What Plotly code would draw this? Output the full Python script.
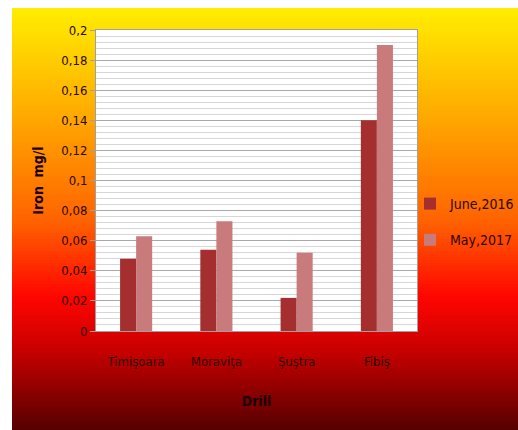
import plotly.graph_objects as go

categories = ["Timişoara", "Moraviţa", "Şuştra", "Fibiş"]
june_2016 = [0.048, 0.054, 0.022, 0.14]
may_2017 = [0.063, 0.073, 0.052, 0.19]
tick_vals = [0, 0.02, 0.04, 0.06, 0.08, 0.1, 0.12, 0.14, 0.16, 0.18, 0.2]
tick_text = ["0", "0,02", "0,04", "0,06", "0,08", "0,1", "0,12", "0,14", "0,16", "0,18", "0,2"]

W, H = 518, 430
L, R, T, B = 96, 417, 30, 331

FONT = "DejaVu Sans Condensed, Liberation Sans Narrow, sans-serif"
TXT = "#2b0800"

fig = go.Figure()
fig.add_trace(go.Bar(name="June,2016", x=categories, y=june_2016,
                     marker=dict(color="#a52f2f", line=dict(width=0)),
                     legendgroup="a"))
fig.add_trace(go.Bar(name="May,2017", x=categories, y=may_2017,
                     marker=dict(color="#c97a7a", line=dict(width=0)),
                     legendgroup="b"))

# background gradient (page pixel rows)
stops = [(8, (255, 238, 0)), (130, (255, 160, 0)), (220, (255, 100, 0)),
         (297, (255, 5, 0)), (350, (200, 0, 0)), (430, (85, 0, 0))]

def col(py):
    for (a, ca), (b, cb) in zip(stops[:-1], stops[1:]):
        if a <= py <= b:
            t = (py - a) / (b - a)
            c = [round(ca[i] + (cb[i] - ca[i]) * t) for i in range(3)]
            return "rgb(%d,%d,%d)" % tuple(c)
    return "rgb(%d,%d,%d)" % stops[-1][1]

def xp(px):
    return (px - L) / (R - L)

def yp(py):
    return (B - py) / (B - T)

shapes = []
step = 3
py = 8
while py < 430:
    shapes.append(dict(type="rect", xref="paper", yref="paper",
                       x0=xp(12), x1=xp(522), y0=yp(min(py + step + 0.5, 434)), y1=yp(py),
                       fillcolor=col(py + step / 2), line=dict(width=0), layer="below"))
    py += step
shapes.append(dict(type="rect", xref="paper", yref="paper", x0=0, x1=1, y0=0, y1=1,
                   fillcolor="white", line=dict(width=0), layer="below"))
fig.update_layout(shapes=shapes)

fig.update_layout(
    width=W, height=H,
    margin=dict(l=L, r=W - R, t=T, b=H - B, pad=0, autoexpand=False),
    paper_bgcolor="white",
    plot_bgcolor="rgba(0,0,0,0)",
    barmode="group", bargap=0.6, bargroupgap=0,
    font=dict(family=FONT, size=13, color=TXT),
    legend=dict(xref="container", yref="container", x=410 / W, y=1 - 222 / H,
                xanchor="left", yanchor="middle",
                bgcolor="rgba(0,0,0,0)", font=dict(size=14, color=TXT),
                tracegroupgap=15, itemwidth=30, traceorder="grouped"),
    xaxis=dict(showgrid=False, showline=True, linecolor="#a0a0a0", linewidth=1,
               mirror=True, ticks="", automargin=False, ticklabelstandoff=18,
               tickfont=dict(size=13, color=TXT),
               title=dict(text="<b>Drill</b>", font=dict(size=14, color="#1a0000"), standoff=28)),
    yaxis=dict(range=[0, 0.2], tickvals=tick_vals, ticktext=tick_text, automargin=False,
               showline=True, linecolor="#a0a0a0", linewidth=1, mirror=True,
               ticks="outside", ticklen=5, tickcolor="#a0a0a0",
               tickfont=dict(size=13, color=TXT),
               gridcolor="#a8a8a8", gridwidth=1,
               minor=dict(dtick=0.004, showgrid=True, gridcolor="#d6d6d6", gridwidth=1, ticks=""),
               title=dict(text="<b>Iron  mg/l</b>", font=dict(size=14, color="#1a0000"), standoff=14)),
)

fig.write_html("out.html", config={"displayModeBar": False},
               post_script="document.body.style.margin='0';document.body.style.overflow='hidden';"
                           "document.documentElement.style.overflow='hidden';")
